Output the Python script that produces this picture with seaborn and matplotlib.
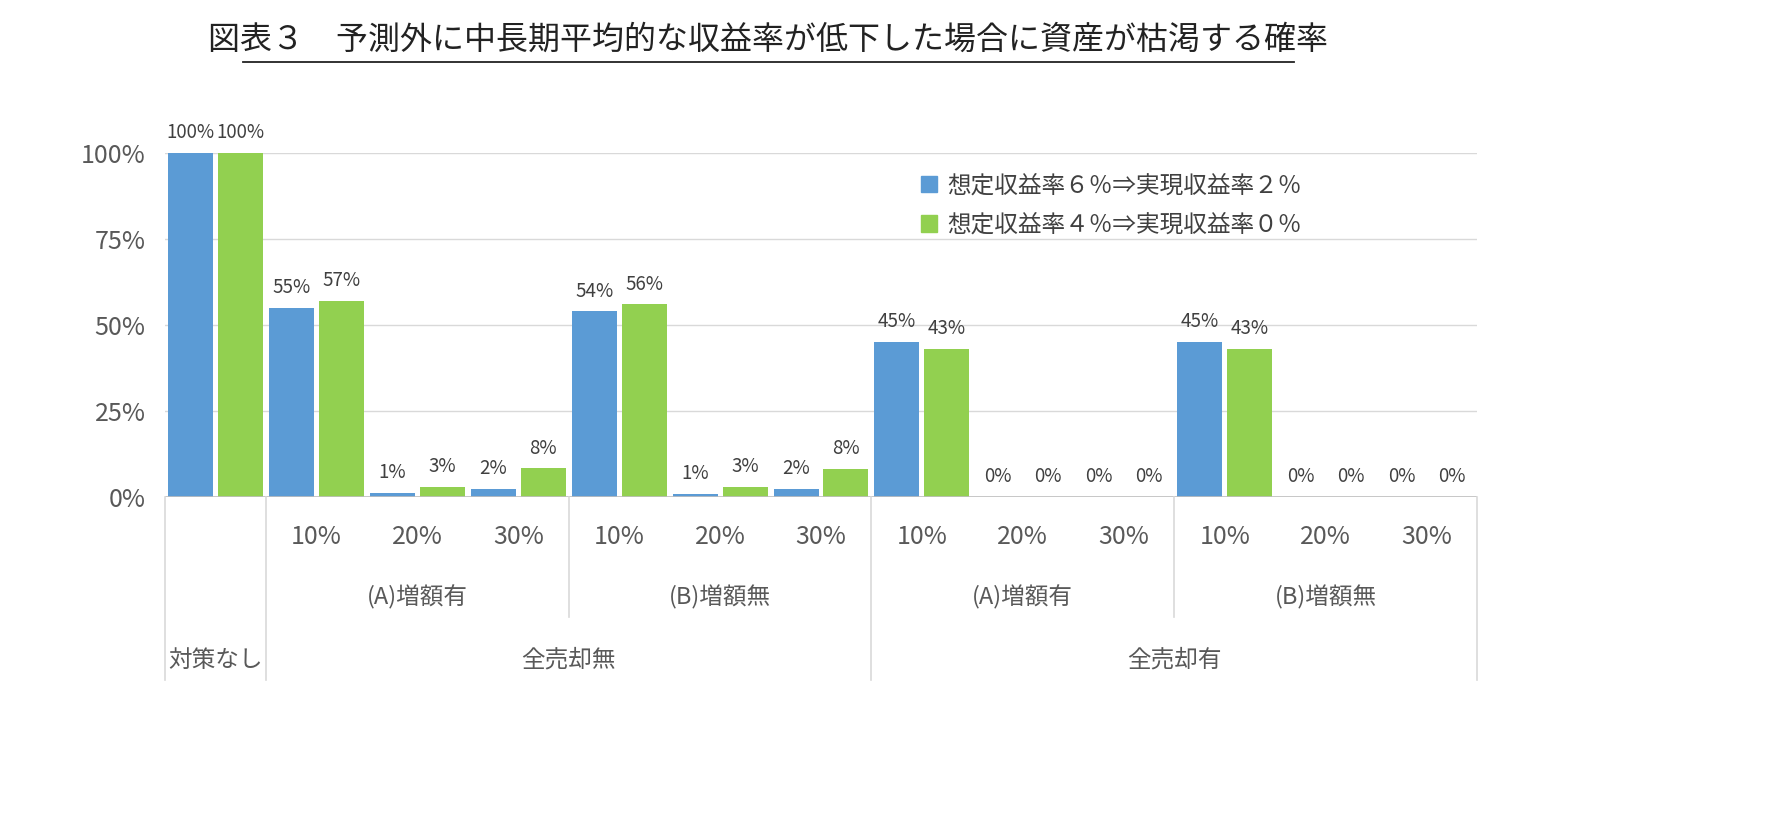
import pandas as pd, matplotlib
matplotlib.use("Agg")
import matplotlib.pyplot as plt
import seaborn as sns
from matplotlib.lines import Line2D
from matplotlib.patches import Patch

plt.rcParams["font.family"] = "Noto Sans CJK JP"

# data
slots = ["対策なし", "A無10", "A無20", "A無30", "B無10", "B無20", "B無30",
         "A有10", "A有20", "A有30", "B有10", "B有20", "B有30"]
series = ["想定収益率６％⇒実現収益率２％", "想定収益率４％⇒実現収益率０％"]
blue_vals = [100, 55, 1.2, 2.4, 54, 1.0, 2.3, 45, 0, 0, 45, 0, 0]
green_vals = [100, 57, 3.0, 8.3, 56, 3.0, 8.1, 43, 0, 0, 43, 0, 0]
blue_lbls = ["100%", "55%", "1%", "2%", "54%", "1%", "2%", "45%", "0%", "0%", "45%", "0%", "0%"]
green_lbls = ["100%", "57%", "3%", "8%", "56%", "3%", "8%", "43%", "0%", "0%", "43%", "0%", "0%"]
rate_labels = ["10%", "20%", "30%"]
mid_labels = ["(A)増額有", "(B)増額無", "(A)増額有", "(B)増額無"]
top_labels = ["対策なし", "全売却無", "全売却有"]
colors = ["#5B9BD5", "#92D050"]

df = pd.DataFrame({
    "slot": slots * 2,
    "series": [series[0]] * len(slots) + [series[1]] * len(slots),
    "value": blue_vals + green_vals,
})

fig = plt.figure(figsize=(17.67, 8.16), dpi=100)
ax = fig.add_axes([165/1767, 1-497/816, (1477-165)/1767, 344/816])
sns.barplot(data=df, x="slot", y="value", hue="series", order=slots,
            hue_order=series, palette=colors, width=0.99, gap=0.1,
            saturation=1, ax=ax, legend=False)
ax.set_xlim(-0.5, len(slots) - 0.5)
ax.set_ylim(0, 100)
ax.set_yticks([0, 25, 50, 75, 100])
ax.set_yticklabels(["0%", "25%", "50%", "75%", "100%"], fontsize=18, color="#595959")
ax.tick_params(axis="y", length=0, pad=14)
ax.set_xticks([])
ax.set_xlabel("")
ax.set_ylabel("")
for s in ax.spines.values():
    s.set_visible(False)
ax.grid(axis="y", color="#d9d9d9", lw=1)
ax.set_axisbelow(True)
ax.axhline(0, color="#bfbfbf", lw=1.2)

for cont, lbls in zip(ax.containers, [blue_lbls, green_lbls]):
    ax.bar_label(cont, labels=lbls, padding=7, fontsize=13.5, color="#404040")

# hierarchical category axis
tr = ax.get_xaxis_transform()
for i in range(1, len(slots)):
    ax.text(i, -0.116, rate_labels[(i - 1) % 3], transform=tr, ha="center",
            va="center", fontsize=18, color="#595959")
for k, lab in enumerate(mid_labels):
    ax.text(2 + 3 * k, -0.291, lab, transform=tr, ha="center", va="center",
            fontsize=17, color="#595959")
for x, lab in zip([0, 3.5, 9.5], top_labels):
    ax.text(x, -0.474, lab, transform=tr, ha="center", va="center",
            fontsize=17, color="#595959")
for x, y1 in [(-0.5, -0.532), (0.5, -0.532), (3.5, -0.349), (6.5, -0.532),
              (9.5, -0.349), (12.5, -0.532)]:
    ax.add_line(Line2D([x, x], [0, y1], transform=tr, color="#d9d9d9",
                       lw=1.2, clip_on=False))

handles = [Patch(color=c) for c in colors]
ax.legend(handles, series, loc="upper left", bbox_to_anchor=(0.56, 1.0),
          frameon=False, fontsize=17, handlelength=0.7, handleheight=0.7,
          handletextpad=0.4, labelspacing=0.7, labelcolor="#404040")

fig.text(768/1767, 1-40/816, "図表３　予測外に中長期平均的な収益率が低下した場合に資産が枯渇する確率",
         ha="center", va="center", fontsize=23, color="#222222")
fig.add_artist(Line2D([243/1767, 1294/1767], [1-62/816, 1-62/816],
                      transform=fig.transFigure, color="#222222", lw=1.3))

fig.savefig("out.png", dpi=100)
